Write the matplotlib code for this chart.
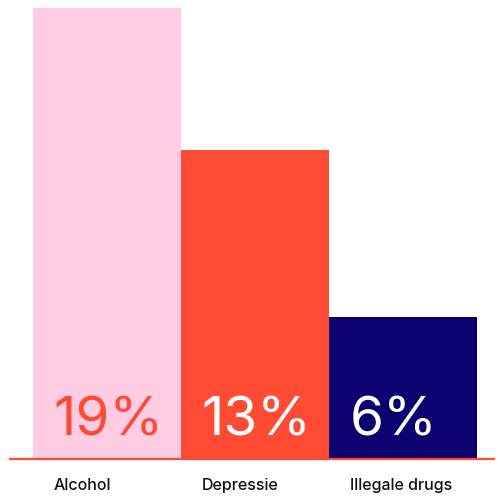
import matplotlib.pyplot as plt
import matplotlib.transforms as mtransforms

categories = ["Alcohol", "Depressie", "Illegale drugs"]
values = [19, 13, 6]
bar_colors = ["#FFCCE3", "#FF4B33", "#0B0070"]
text_colors = ["#FF4B33", "#FFFFFF", "#FFFFFF"]

plt.rcParams['font.family'] = ['Inter', 'DejaVu Sans']

W = 498.0
fig = plt.figure(figsize=(4.98, 4.98), dpi=100)
ax = fig.add_axes([10 / W, 1 - 459 / W, 484 / W, 459 / W])
ax.axis('off')

xpos = list(range(len(values)))
ax.bar(xpos, values, width=1.0, align='edge', color=bar_colors, linewidth=0)
ax.set_xlim(-23 / 148, 461 / 148)
ax.set_ylim(0, 19 * 459 / 451)

ax.axhline(0, color="#FF4B33", linewidth=1.6, clip_on=False, zorder=5)

trans = mtransforms.blended_transform_factory(ax.transData, fig.transFigure)
for i, (cat, v) in enumerate(zip(categories, values)):
    ax.text(i + 0.14, 1.0, "%d%%" % v, color=text_colors[i], fontsize=39.5,
            ha='left', va='baseline')
    ax.text(i + 0.14, 1 - 490 / W, cat, transform=trans, color="#111111",
            fontsize=11.5, fontweight='medium', ha='left', va='baseline')

fig.savefig("out.png", dpi=100)
